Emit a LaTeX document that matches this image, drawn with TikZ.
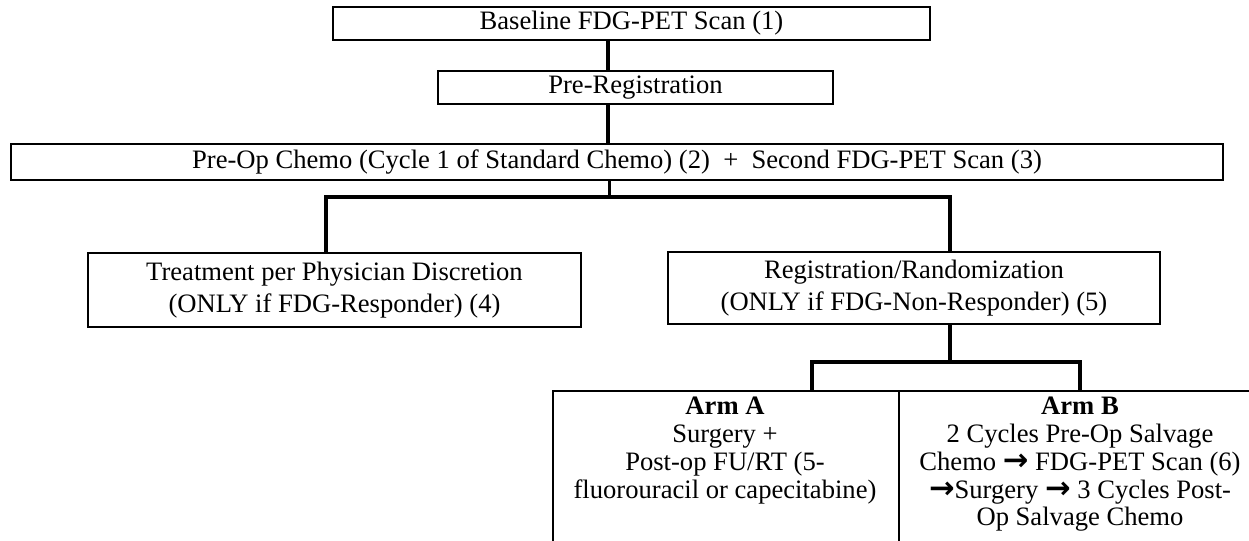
\documentclass[tikz,border=0pt]{standalone}
\usepackage{fontspec}
\setmainfont{Liberation Serif}
\newfontfamily\arrowfont[Scale=1.15]{DejaVu Sans}
\newcommand{\rarr}{{\arrowfont\bfseries →}}
\begin{document}
\begin{tikzpicture}[x=0.5pt,y=-0.5pt,
  box/.style={draw, line width=1.2pt, inner sep=0pt, align=center, font=\fontsize{13.3}{15.8}\selectfont},
  cell/.style={draw, line width=0.8pt, inner sep=0pt, anchor=north west},
  celltext/.style={anchor=north, inner sep=0pt, align=center, font=\fontsize{13.3}{13.85}\selectfont},
  link/.style={line width=2.2pt},
  thinlink/.style={line width=1.5pt}]
\useasboundingbox (0,0) rectangle (1249,541);
\fill[white] (0,0) rectangle (1249,541);
\clip (0,0) rectangle (1249,541);

\node[box, minimum width=298.5pt, minimum height=16.5pt] (b1) at (631.5,23.5) {Baseline FDG-PET Scan (1)};
\node[box, minimum width=197.5pt, minimum height=16.5pt] (b2) at (635.5,87.5) {Pre-Registration};
\node[box, minimum width=606pt, minimum height=18pt] (b3) at (617,162) {Pre-Op Chemo (Cycle 1 of Standard Chemo) (2)\ \ +\ \ Second FDG-PET Scan (3)};
\node[box, minimum width=246.5pt, minimum height=37pt] (b4) at (334.5,290) {Treatment per Physician Discretion\\(ONLY if FDG-Responder) (4)};
\node[box, minimum width=246pt, minimum height=36pt] (b5) at (914,288) {Registration/Randomization\\(ONLY if FDG-Non-Responder) (5)};

\node[cell, minimum width=173pt, minimum height=100pt] (cellA) at (552,390) {};
\node[cell, minimum width=182pt, minimum height=100pt] (cellB) at (898,390) {};
\node[celltext] (ta) at (725,397) {\textbf{Arm A}\\Surgery +\\Post-op FU/RT (5-\\fluorouracil or capecitabine)};
\node[celltext] (tb) at (1080,397) {\textbf{Arm B}\\2 Cycles Pre-Op Salvage\\Chemo \rarr{} FDG-PET Scan (6)\\\rarr Surgery \rarr{} 3 Cycles Post-\\Op Salvage Chemo};

\coordinate (s1) at (608,0);
\draw[link] (b1.south -| s1) -- (b2.north -| s1);
\draw[link] (b2.south -| s1) -- (b3.north -| s1);
\coordinate (j1) at (609,197);
\draw[thinlink] (b3.south -| j1) -- (j1);
\coordinate (l4) at (326,197);
\coordinate (l5) at (950,197);
\draw[link] (b4.north -| l4) -- (l4) -- (l5) -- (b5.north -| l5);
\coordinate (j2) at (950,362);
\coordinate (la) at (812,362);
\coordinate (lb) at (1080,362);
\draw[link] (b5.south -| j2) -- (j2);
\draw[link] (cellA.north -| la) -- (la) -- (lb) -- (cellB.north -| lb);
\end{tikzpicture}
\end{document}
